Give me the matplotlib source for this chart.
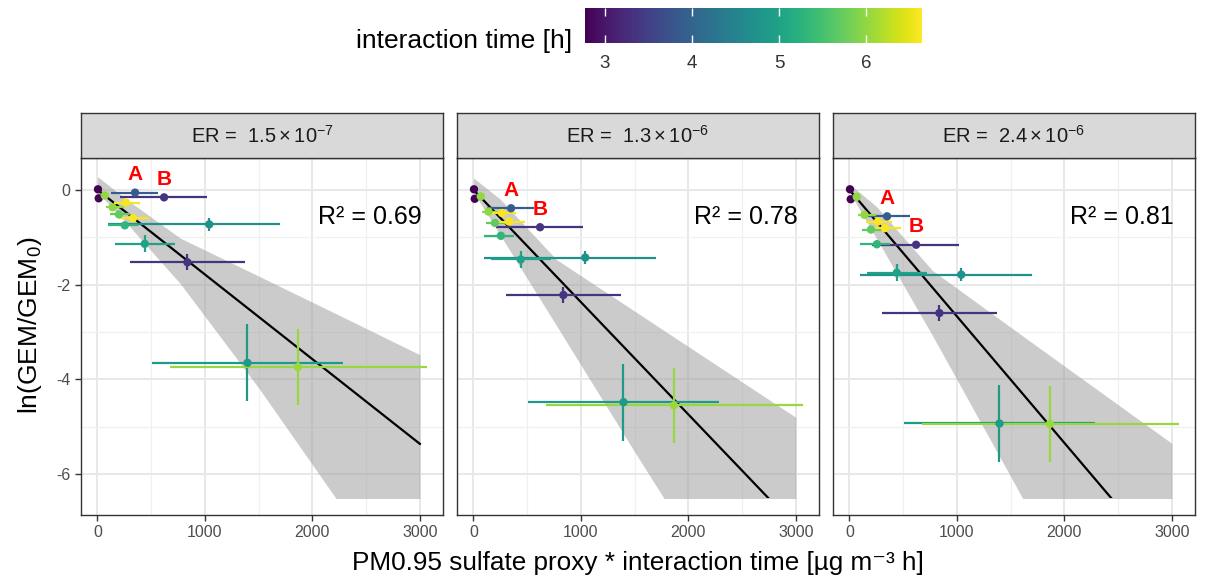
# ============================================================
# GEM vs PM0.95 sulfate proxy * interaction time (3 ER panels)
# ============================================================

import matplotlib
matplotlib.use("Agg")

import numpy as np
import matplotlib.pyplot as plt
from matplotlib import cm, colors
from matplotlib.patches import Rectangle
from matplotlib.ticker import MultipleLocator

plt.rcParams["font.family"] = ["Liberation Sans", "DejaVu Sans"]
plt.rcParams["mathtext.fontset"] = "custom"
plt.rcParams["mathtext.rm"] = "Liberation Sans"
plt.rcParams["mathtext.it"] = "Liberation Sans:italic"
plt.rcParams["mathtext.bf"] = "Liberation Sans:bold"
plt.rcParams["axes.unicode_minus"] = False


# ============================================================
# DATOS
# ============================================================

# tiempo de interacción [h] (color)
tiempo = [2.75, 2.8, 6.0, 3.9, 3.35, 4.75, 5.0, 3.35, 4.85, 6.05,
          6.0, 6.6, 5.7, 6.6, 5.3]

# eje x: proxy de sulfato * tiempo, con extremos de la barra horizontal
proxy = [5, 12, 68, 350, 620, 1040, 440, 837, 1396, 1865,
         140, 265, 200, 330, 255]
proxy_min = [0, 0, 40, 125, 210, 100, 160, 305, 505, 675,
             75, 150, 120, 200, 100]
proxy_max = [15, 25, 100, 560, 1015, 1697, 720, 1370, 2285, 3062,
             250, 400, 300, 480, 380]

# eje y: ln(GEM/GEM0) para cada ER
ln_gem_er1 = [0.01, -0.18, -0.12, -0.06, -0.16, -0.73, -1.14, -1.53, -3.65, -3.74,
              -0.37, -0.27, -0.52, -0.60, -0.75]
ln_gem_er2 = [0.01, -0.19, -0.14, -0.39, -0.79, -1.43, -1.47, -2.22, -4.48, -4.55,
              -0.46, -0.49, -0.70, -0.67, -0.97]
ln_gem_er3 = [0.01, -0.20, -0.15, -0.56, -1.16, -1.79, -1.75, -2.60, -4.93, -4.94,
              -0.53, -0.67, -0.84, -0.81, -1.15]
error_ln_gem = [0.02, 0.02, 0.03, 0.04, 0.05, 0.14, 0.18, 0.17, 0.81, 0.80,
                0.05, 0.06, 0.06, 0.08, 0.08]

# puntos marcados con letra
indice_a = 3
indice_b = 4

# ajuste lineal y banda de confianza
ajuste_x = [0, 3000]
ajuste_er1 = [0.0, -5.36]
ajuste_er2 = [0.0, -7.11]
ajuste_er3 = [0.0, -8.01]

banda_x = [0, 250, 771, 1500, 2216, 3000]
banda_sup_er1 = [0.28, -0.17, -1.02, -1.82, -2.61, -3.48]
banda_inf_er1 = [-0.05, -0.65, -1.98, -4.18, -6.50, -9.06]
banda_sup_er2 = [0.25, -0.20, -1.47, -2.56, -3.63, -4.80]
banda_inf_er2 = [-0.05, -0.96, -2.86, -5.53, -8.10, -11.0]
banda_sup_er3 = [0.12, -0.35, -1.70, -2.90, -4.07, -5.35]
banda_inf_er3 = [-0.05, -1.02, -3.07, -6.05, -9.00, -12.0]

limite_inferior = -6.5

etiquetas_er = [
    r"ER =  $1.5 \times 10^{-7}$",
    r"ER =  $1.3 \times 10^{-6}$",
    r"ER =  $2.4 \times 10^{-6}$",
]
valores_r2 = ["0.69", "0.78", "0.81"]

paneles = [
    (ln_gem_er1, ajuste_er1, banda_sup_er1, banda_inf_er1),
    (ln_gem_er2, ajuste_er2, banda_sup_er2, banda_inf_er2),
    (ln_gem_er3, ajuste_er3, banda_sup_er3, banda_inf_er3),
]


# ============================================================
# FIGURA
# ============================================================

W, H = 1205, 581
fig = plt.figure(figsize=(W / 100, H / 100), dpi=100)

norma = colors.Normalize(vmin=2.77, vmax=6.64)
cmap = matplotlib.colormaps["viridis"]

izquierdas = [81, 457, 833]
ancho = 362
arriba, abajo = 158, 515
alto_tira = 45

for i, (ln_gem, ajuste, sup, inf) in enumerate(paneles):

    ax = fig.add_axes([
        izquierdas[i] / W,
        1 - abajo / H,
        ancho / W,
        (abajo - arriba) / H
    ])

    ax.set_xlim(-153, 3215)
    ax.set_ylim(-6.86, 0.67)

    ax.xaxis.set_major_locator(MultipleLocator(1000))
    ax.xaxis.set_minor_locator(MultipleLocator(500))
    ax.yaxis.set_major_locator(MultipleLocator(2))
    ax.yaxis.set_minor_locator(MultipleLocator(1))

    ax.grid(which="major", color="#e8e8e8", linewidth=1.4, zorder=0)
    ax.grid(which="minor", color="#f0f0f0", linewidth=0.9, zorder=0)
    ax.set_axisbelow(True)

    for lado in ax.spines.values():
        lado.set_color("#333333")
        lado.set_linewidth(1.0)

    ax.tick_params(which="major", length=4, width=1, color="#333333",
                   labelsize=11.5, labelcolor="#4d4d4d")
    ax.tick_params(which="minor", length=0)

    if i > 0:
        ax.tick_params(axis="y", left=False, labelleft=False)

    # recorte de la banda y del ajuste
    recorte = Rectangle((-1000, limite_inferior), 5000, 10,
                        transform=ax.transData)

    banda = ax.fill_between(banda_x, inf, sup, color="#999999",
                            alpha=0.5, linewidth=0, zorder=1)
    banda.set_clip_path(recorte)

    linea, = ax.plot(ajuste_x, ajuste, color="black", linewidth=1.6, zorder=2)
    linea.set_clip_path(recorte)

    # barras de error y puntos
    for j in range(len(proxy)):
        c = cmap(norma(tiempo[j]))
        ax.plot([proxy_min[j], proxy_max[j]], [ln_gem[j], ln_gem[j]],
                color=c, linewidth=1.6, zorder=3, solid_capstyle="butt")
        ax.plot([proxy[j], proxy[j]],
                [ln_gem[j] - error_ln_gem[j], ln_gem[j] + error_ln_gem[j]],
                color=c, linewidth=1.6, zorder=3, solid_capstyle="butt")

    ax.scatter(proxy, ln_gem, c=tiempo, cmap=cmap, norm=norma,
               s=36, linewidths=0, zorder=4)

    for indice, letra in [(indice_a, "A"), (indice_b, "B")]:
        ax.annotate(letra, (proxy[indice], ln_gem[indice]),
                    xytext=(0, 13), textcoords="offset points",
                    ha="center", va="center", color="red",
                    fontsize=15, fontweight="bold", zorder=5)

    ax.text(0.94, 0.835, f"R\u00b2 = {valores_r2[i]}",
            transform=ax.transAxes, ha="right", va="center",
            fontsize=18, color="black")

    # tira con el valor de ER
    tira = fig.add_axes([
        izquierdas[i] / W,
        1 - arriba / H,
        ancho / W,
        alto_tira / H
    ])
    tira.set_facecolor("#d9d9d9")
    tira.set_xticks([])
    tira.set_yticks([])
    for lado in tira.spines.values():
        lado.set_color("#333333")
        lado.set_linewidth(1.0)
    tira.text(0.5, 0.5, etiquetas_er[i], ha="center", va="center",
              fontsize=14.5, color="#1a1a1a", transform=tira.transAxes)


# ============================================================
# TÍTULOS DE EJES
# ============================================================

fig.text(638 / W, 1 - 563 / H,
         "PM0.95 sulfate proxy * interaction time [\u00b5g m\u207b\u00b3 h]",
         ha="center", va="center", fontsize=18.8)

fig.text(30 / W, 1 - 325 / H, r"ln(GEM/GEM$_0$)",
         ha="center", va="center", rotation=90, fontsize=19)


# ============================================================
# BARRA DE COLOR
# ============================================================

ax_barra = fig.add_axes([585 / W, 1 - 43 / H, 337 / W, 35 / H])
barra = fig.colorbar(cm.ScalarMappable(norm=norma, cmap=cmap),
                     cax=ax_barra, orientation="horizontal")
barra.outline.set_visible(False)
barra.set_ticks([3, 4, 5, 6])
ax_barra.tick_params(axis="x", direction="in", length=6, width=1,
                     color="white", top=True, bottom=True,
                     labelsize=13.5, labelcolor="#333333", pad=9)

fig.text(572 / W, 1 - 41 / H, "interaction time [h]",
         ha="right", va="center", fontsize=19)

plt.savefig("out.png", dpi=100)
